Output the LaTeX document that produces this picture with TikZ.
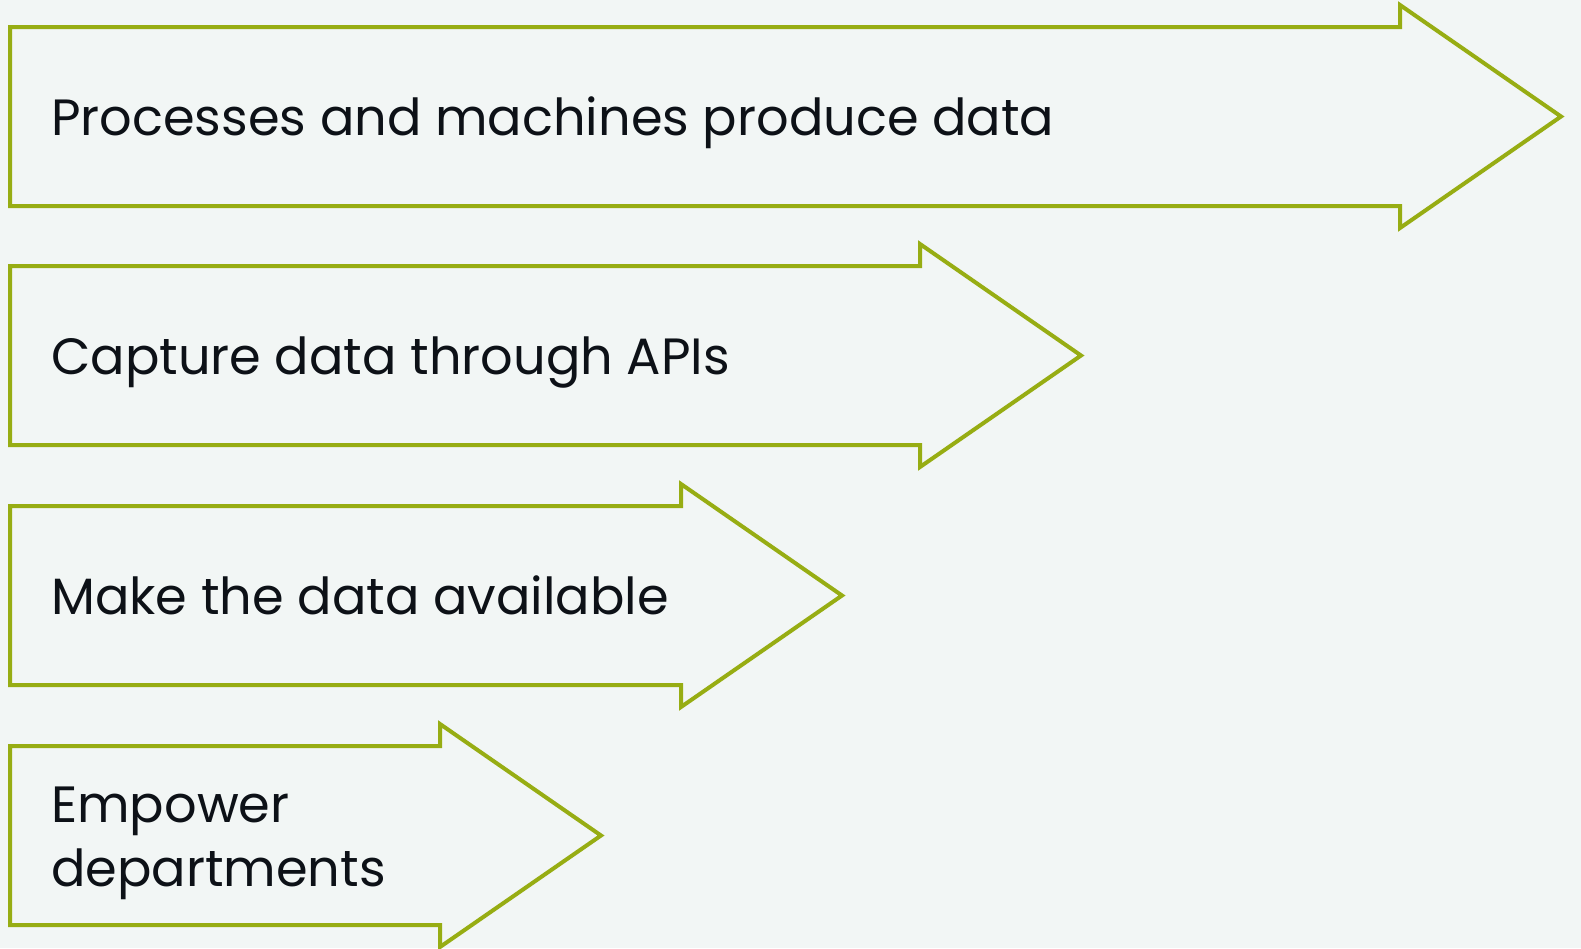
\documentclass[tikz,border=0pt]{standalone}
\usepackage{fontspec}
\setmainfont{Poppins}
\definecolor{bgcol}{HTML}{F2F6F5}
\definecolor{stagegreen}{HTML}{97AD13}
\definecolor{inkcol}{HTML}{0D1117}
\begin{document}
\begin{tikzpicture}[x=1bp,y=-1bp,
  stagearrow/.style={draw=stagegreen,line width=4bp,line join=miter,fill=bgcol},
  stagelabel/.style={anchor=base west,align=left,inner sep=0pt,text=inkcol,
    font=\fontsize{51bp}{64bp}\selectfont}]
  \fill[bgcol] (0,0) rectangle (1581,948);
  \useasboundingbox (0,0) rectangle (1581,948);
  % each stage: top edge of the shaft / x where the head starts
  \foreach \t/\h in {27/1400,266/920,506/681,746/440}{
    \draw[stagearrow] (10,\t) -- (\h,\t) -- (\h,\t-22) -- (\h+161,\t+89.5)
      -- (\h,\t+201) -- (\h,\t+179) -- (10,\t+179) -- cycle;
  }
  \node[stagelabel] (s1) at (51,135) {Processes and machines produce data};
  \node[stagelabel] (s2) at (51,374) {Capture data through APIs};
  \node[stagelabel] (s3) at (51,614) {Make the data available};
  % two-line label: base anchor sits on the last line
  \node[stagelabel] (s4) at (51,886) {Empower\\departments};
\end{tikzpicture}
\end{document}
